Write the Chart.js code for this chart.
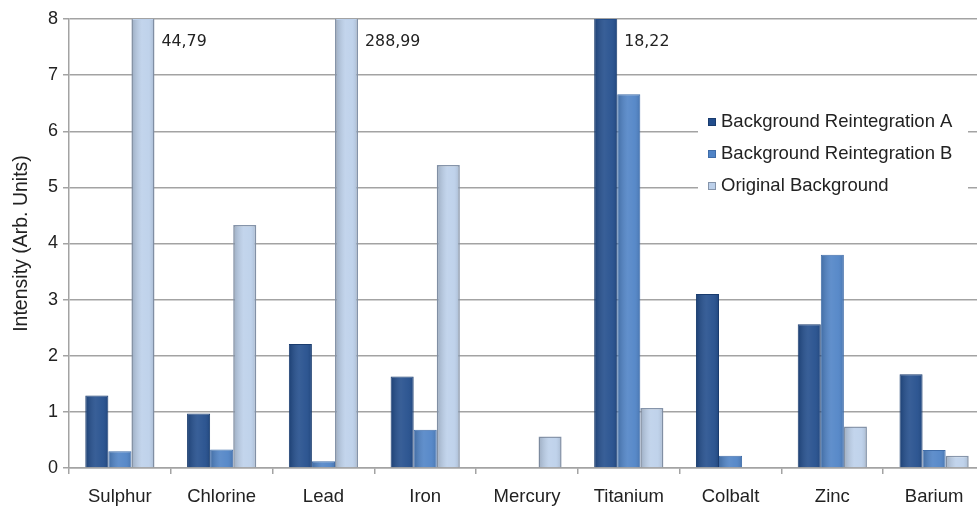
<!DOCTYPE html>
<html>
<head>
<meta charset="utf-8">
<script src="https://cdn.jsdelivr.net/npm/chart.js@4.4.1/dist/chart.umd.min.js"></script>
<style>
  html, body { margin: 0; padding: 0; background: #fff; overflow: hidden; }
  #wrap { width: 985px; height: 508px; }
</style>
</head>
<body>
<div id="wrap"><canvas id="elementChart"></canvas></div>
<script>
// categories and series
const elements = ["Sulphur", "Chlorine", "Lead", "Iron", "Mercury", "Titanium", "Colbalt", "Zinc", "Barium"];
const reintegrationA = [1.29, 0.97, 2.21, 1.63, 0, 18.22, 3.1, 2.56, 1.67];
const reintegrationB = [0.3, 0.33, 0.12, 0.68, 0, 6.66, 0.22, 3.8, 0.32];
const originalBg = [44.79, 4.33, 288.99, 5.4, 0.56, 1.07, 0, 0.74, 0.22];
const yTicks = [0, 1, 2, 3, 4, 5, 6, 7, 8];

const yMax = 8;
const gridColor = "#a3a3a3";
const labelFont = "'Liberation Sans', Arial, sans-serif";

// small shading over each bar so they look like the rounded office bars
const barShade = {
  id: "barShade",
  afterDatasetsDraw(chart) {
    const ctx = chart.ctx;
    const area = chart.chartArea;
    ctx.save();
    ctx.beginPath();
    ctx.rect(area.left, area.top, area.right - area.left, area.bottom - area.top);
    ctx.clip();
    chart.data.datasets.forEach((ds, di) => {
      chart.getDatasetMeta(di).data.forEach(bar => {
        const w = bar.width;
        const left = bar.x - w / 2;
        const top = Math.max(bar.y, area.top);
        const h = bar.base - top;
        if (h <= 0) return;
        const g = ctx.createLinearGradient(left, 0, left + w, 0);
        g.addColorStop(0, "rgba(0,0,0,0.18)");
        g.addColorStop(0.45, "rgba(255,255,255,0.10)");
        g.addColorStop(0.75, "rgba(255,255,255,0.06)");
        g.addColorStop(1, "rgba(0,0,0,0.12)");
        ctx.fillStyle = g;
        ctx.fillRect(left + 1, top + 1, w - 2, h - 1);
      });
    });
    ctx.restore();
  }
};

// values of bars that run past the top of the axis
const overflowLabels = {
  id: "overflowLabels",
  afterDatasetsDraw(chart) {
    const ctx = chart.ctx;
    ctx.save();
    ctx.font = "15.8px 'DejaVu Sans', sans-serif";
    ctx.fillStyle = "#222";
    ctx.textBaseline = "middle";
    chart.data.datasets.forEach((ds, di) => {
      chart.getDatasetMeta(di).data.forEach((bar, i) => {
        const v = ds.data[i];
        if (v > yMax) {
          const txt = v.toFixed(2).replace(".", ",");
          ctx.fillText(txt, bar.x + bar.width / 2 + 7, chart.chartArea.top + 23);
        }
      });
    });
    ctx.restore();
  }
};

// legend box sitting inside the plot on the right
const insideLegend = {
  id: "insideLegend",
  afterDraw(chart) {
    const ctx = chart.ctx;
    const area = chart.chartArea;
    const boxLeft = 698;
    const boxTop = area.top + 84;
    ctx.save();
    ctx.fillStyle = "#fff";
    ctx.fillRect(boxLeft, boxTop, 270, 115);
    ctx.font = "18.5px " + labelFont;
    ctx.textBaseline = "middle";
    chart.data.datasets.forEach((ds, i) => {
      const y = boxTop + 19 + i * 32;
      const x = boxLeft + 10;
      ctx.fillStyle = ds.backgroundColor;
      ctx.fillRect(x, y - 4, 8, 8);
      ctx.strokeStyle = ds.borderColor;
      ctx.lineWidth = 1;
      ctx.strokeRect(x + 0.5, y - 3.5, 7, 7);
      ctx.fillStyle = "#222";
      ctx.fillText(ds.label, x + 13, y);
    });
    ctx.restore();
  }
};

new Chart(document.getElementById("elementChart"), {
  type: "bar",
  data: {
    labels: elements,
    datasets: [
      { label: "Background Reintegration A", data: reintegrationA,
        backgroundColor: "#224d8c", borderColor: "#1a3c6e", borderWidth: 1 },
      { label: "Background Reintegration B", data: reintegrationB,
        backgroundColor: "#4f83c6", borderColor: "#3f6ca8", borderWidth: 1 },
      { label: "Original Background", data: originalBg,
        backgroundColor: "#bcd0ea", borderColor: "#8594aa", borderWidth: 1.5 }
    ]
  },
  options: {
    responsive: true,
    maintainAspectRatio: false,
    animation: false,
    layout: { padding: { top: 19, right: 0, left: 0, bottom: 0 } },
    datasets: { bar: { categoryPercentage: 0.68, barPercentage: 1.0 } },
    plugins: {
      legend: { display: false },
      tooltip: { enabled: false }
    },
    scales: {
      x: {
        grid: {
          offset: true, drawOnChartArea: false, drawTicks: true,
          tickLength: 6, color: gridColor, lineWidth: 1.5
        },
        border: { color: gridColor, width: 1.5 },
        ticks: { color: "#222", font: { family: labelFont, size: 18.5 }, padding: 12, maxRotation: 0 },
        afterFit(scale) { scale.height = 40; }
      },
      y: {
        min: 0,
        max: yMax,
        afterBuildTicks(scale) { scale.ticks = yTicks.map(v => ({ value: v })); },
        grid: { color: gridColor, lineWidth: 1.5, tickLength: 6 },
        border: { color: gridColor, width: 1.5 },
        ticks: { color: "#222", font: { family: labelFont, size: 18 }, padding: 5 },
        title: {
          display: true, text: "Intensity (Arb. Units)", color: "#222",
          font: { family: labelFont, size: 19.5 }, padding: { top: 10, bottom: 8 }
        },
        afterFit(scale) { scale.width = 69; }
      }
    }
  },
  plugins: [barShade, overflowLabels, insideLegend]
});
</script>
</body>
</html>
